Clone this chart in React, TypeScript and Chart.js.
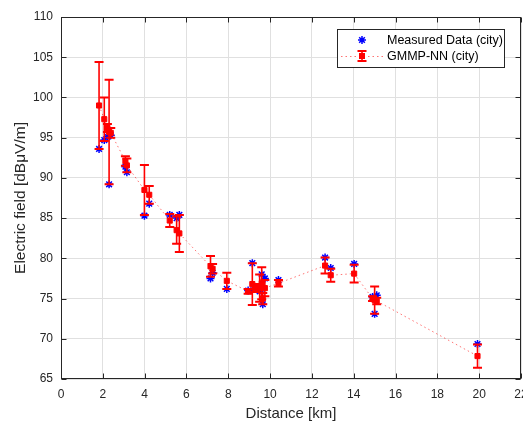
import React, { useEffect, useRef } from 'react';
import { Chart, registerables } from 'chart.js';

Chart.register(...registerables);

// ---- data ----
const distanceKm = [1.82, 2.07, 2.22, 2.3, 2.38, 3.08, 3.15, 3.99, 4.22, 5.2, 5.53, 5.66, 7.15, 7.25, 7.93, 8.95, 9.15, 9.3, 9.5, 9.6, 9.65, 9.75, 10.4, 12.63, 12.9, 14.02, 14.9, 15.0, 15.1, 19.92];
const measuredField = [93.6, 94.7, 95.1, 89.2, 95.3, 91.4, 90.7, 85.3, 86.8, 85.4, 85.0, 85.4, 77.5, 78.2, 76.2, 76.0, 79.4, 76.4, 75.9, 78.0, 74.3, 77.5, 77.3, 80.1, 78.8, 79.3, 75.2, 73.1, 75.4, 69.35];
const predictedField = [99.0, 97.3, 96.2, 95.7, 95.6, 92.1, 91.55, 88.5, 87.9, 84.7, 83.5, 83.1, 79.0, 78.7, 77.2, 75.9, 76.8, 76.3, 76.3, 76.9, 75.0, 76.3, 76.9, 79.1, 77.9, 78.1, 75.0, 74.8, 74.7, 67.85];
const predictedError = [5.4, 2.7, 0.5, 6.5, 0.6, 0.6, 0.85, 3.1, 1.1, 0.8, 1.7, 2.3, 1.3, 0.6, 1.0, 0.3, 2.6, 0.5, 1.7, 2.0, 0.7, 1.0, 0.4, 1.0, 0.8, 1.1, 0.3, 1.7, 0.4, 1.45];
const xTicks = [0, 2, 4, 6, 8, 10, 12, 14, 16, 18, 20, 22];
const yTicks = [65, 70, 75, 80, 85, 90, 95, 100, 105, 110];

const seriesLabels = ['Measured Data (city)', 'GMMP-NN (city)'];
const xTitle = 'Distance [km]';
const yTitle = 'Electric field [dBμV/m]';

const FONT = "'Liberation Sans', Arial, Helvetica, sans-serif";
const AXIS = '#262626';
const BLUE = '#0000ff';
const RED = '#ff0000';

function drawStar(ctx: CanvasRenderingContext2D, x: number, y: number, r: number) {
  ctx.beginPath();
  ctx.moveTo(x - r, y); ctx.lineTo(x + r, y);
  ctx.moveTo(x, y - r); ctx.lineTo(x, y + r);
  const d = r * Math.SQRT1_2;
  ctx.moveTo(x - d, y - d); ctx.lineTo(x + d, y + d);
  ctx.moveTo(x - d, y + d); ctx.lineTo(x + d, y - d);
  ctx.stroke();
}

function drawErrorBar(ctx: CanvasRenderingContext2D, x: number, yTop: number, yBot: number, cap: number) {
  ctx.lineWidth = 1.6;
  ctx.beginPath(); ctx.moveTo(x, yTop); ctx.lineTo(x, yBot); ctx.stroke();
  ctx.lineWidth = 2;
  ctx.beginPath();
  ctx.moveTo(x - cap, yTop); ctx.lineTo(x + cap, yTop);
  ctx.moveTo(x - cap, yBot); ctx.lineTo(x + cap, yBot);
  ctx.stroke();
}

const errorBarPlugin = {
  id: 'errorBars',
  beforeDatasetDraw(chart: any, args: any) {
    if (args.index !== 1) return;
    const ctx: CanvasRenderingContext2D = chart.ctx;
    const xs = chart.scales.x;
    const ys = chart.scales.y;
    ctx.save();
    ctx.strokeStyle = RED;
    distanceKm.forEach((d, i) => {
      const x = xs.getPixelForValue(d);
      const yTop = ys.getPixelForValue(predictedField[i] + predictedError[i]);
      const yBot = ys.getPixelForValue(predictedField[i] - predictedError[i]);
      drawErrorBar(ctx, x, yTop, yBot, 4.5);
    });
    ctx.restore();
  },
};

const framePlugin = {
  id: 'frame',
  afterDatasetsDraw(chart: any) {
    const ctx: CanvasRenderingContext2D = chart.ctx;
    const { left, right, top, bottom } = chart.chartArea;
    const xs = chart.scales.x;
    const ys = chart.scales.y;
    ctx.save();
    ctx.strokeStyle = AXIS;
    ctx.lineWidth = 1;
    const L = Math.round(left) + 0.5, R = Math.round(right) - 0.5;
    const T = Math.round(top) + 0.5, B = Math.round(bottom) - 0.5;
    ctx.strokeRect(L, T, R - L, B - T);
    const tl = 5;
    ctx.beginPath();
    xTicks.forEach((v) => {
      const x = Math.round(xs.getPixelForValue(v)) + 0.5;
      ctx.moveTo(x, B); ctx.lineTo(x, B - tl);
      ctx.moveTo(x, T); ctx.lineTo(x, T + tl);
    });
    yTicks.forEach((v) => {
      const y = Math.round(ys.getPixelForValue(v)) + 0.5;
      ctx.moveTo(L, y); ctx.lineTo(L + tl, y);
      ctx.moveTo(R, y); ctx.lineTo(R - tl, y);
    });
    ctx.stroke();
    ctx.restore();
  },
  afterDraw(chart: any) {
    const ctx: CanvasRenderingContext2D = chart.ctx;
    const bx = 337.5, by = 29.5, bw = 167, bh = 38;
    ctx.save();
    ctx.fillStyle = '#ffffff';
    ctx.fillRect(bx, by, bw, bh);
    ctx.strokeStyle = AXIS;
    ctx.lineWidth = 1;
    ctx.strokeRect(bx, by, bw, bh);
    const mx = 362;
    const y1 = 40, y2 = 56;
    // row 1: measured
    ctx.strokeStyle = BLUE;
    ctx.lineWidth = 1.5;
    drawStar(ctx, mx, y1, 4);
    // row 2: predicted
    ctx.strokeStyle = 'rgba(255,0,0,0.55)';
    ctx.lineWidth = 1;
    ctx.setLineDash([1.5, 3]);
    ctx.beginPath(); ctx.moveTo(341, y2 + 0.5); ctx.lineTo(384, y2 + 0.5); ctx.stroke();
    ctx.setLineDash([]);
    ctx.strokeStyle = RED;
    drawErrorBar(ctx, mx, y2 - 5, y2 + 5, 4.5);
    ctx.fillStyle = RED;
    ctx.fillRect(mx - 3, y2 - 3, 6, 6);
    ctx.fillStyle = '#000000';
    ctx.font = `12.5px ${FONT}`;
    ctx.textBaseline = 'middle';
    ctx.textAlign = 'left';
    ctx.fillText(chart.data.datasets[0].label, 387, y1 + 0.5);
    ctx.fillText(chart.data.datasets[1].label, 387, y2 + 0.5);
    ctx.restore();
  },
};

export default function App() {
  const canvasRef = useRef<HTMLCanvasElement | null>(null);

  useEffect(() => {
    const canvas = canvasRef.current;
    if (!canvas) return;
    const measuredPoints = distanceKm.map((d, i) => ({ x: d, y: measuredField[i] }));
    const predictedPoints = distanceKm.map((d, i) => ({ x: d, y: predictedField[i] }));

    const chart = new Chart(canvas, {
      type: 'scatter',
      data: {
        datasets: [
          {
            label: seriesLabels[0],
            data: measuredPoints,
            order: 2,
            pointStyle: 'star',
            pointRadius: 4,
            pointBorderWidth: 1.5,
            borderColor: BLUE,
            backgroundColor: BLUE,
            showLine: false,
          } as any,
          {
            label: seriesLabels[1],
            data: predictedPoints,
            order: 1,
            showLine: true,
            borderColor: 'rgba(255,0,0,0.55)',
            borderWidth: 1,
            borderDash: [1.5, 3],
            pointStyle: 'rect',
            pointRadius: 3.6,
            pointBorderWidth: 1,
            pointBorderColor: RED,
            pointBackgroundColor: RED,
            backgroundColor: RED,
          } as any,
        ],
      },
      options: {
        responsive: false,
        animation: false,
        devicePixelRatio: 1,
        layout: { padding: { left: 0, right: 19, top: 17, bottom: 0 } },
        plugins: {
          legend: { display: false },
          tooltip: { enabled: false },
        },
        scales: {
          x: {
            type: 'linear',
            min: 0,
            max: 22,
            afterBuildTicks: (scale: any) => { scale.ticks = xTicks.map((v) => ({ value: v })); },
            afterFit: (scale: any) => { scale.height = 44; },
            ticks: { color: AXIS, font: { family: FONT, size: 12 }, padding: 8, maxRotation: 0, autoSkip: false },
            grid: { color: '#e0e0e0', lineWidth: 1, drawTicks: false },
            border: { display: false },
            title: { display: true, text: xTitle, color: AXIS, font: { family: FONT, size: 15 }, padding: { top: 0, bottom: 0 } },
          },
          y: {
            type: 'linear',
            min: 65,
            max: 110,
            afterBuildTicks: (scale: any) => { scale.ticks = yTicks.map((v) => ({ value: v })); },
            afterFit: (scale: any) => { scale.width = 61; },
            ticks: { color: AXIS, font: { family: FONT, size: 12 }, padding: 8, autoSkip: false },
            grid: { color: '#e0e0e0', lineWidth: 1, drawTicks: false },
            border: { display: false },
            title: { display: true, text: yTitle, color: AXIS, font: { family: FONT, size: 15.5 }, padding: { top: 11, bottom: 0 } },
          },
        },
      },
      plugins: [errorBarPlugin, framePlugin],
    });
    return () => chart.destroy();
  }, []);

  return (
    <div style={{ position: 'fixed', left: 0, top: 0, width: 540, height: 423, background: '#ffffff' }}>
      <canvas ref={canvasRef} width={540} height={423} style={{ display: 'block' }} />
    </div>
  );
}
